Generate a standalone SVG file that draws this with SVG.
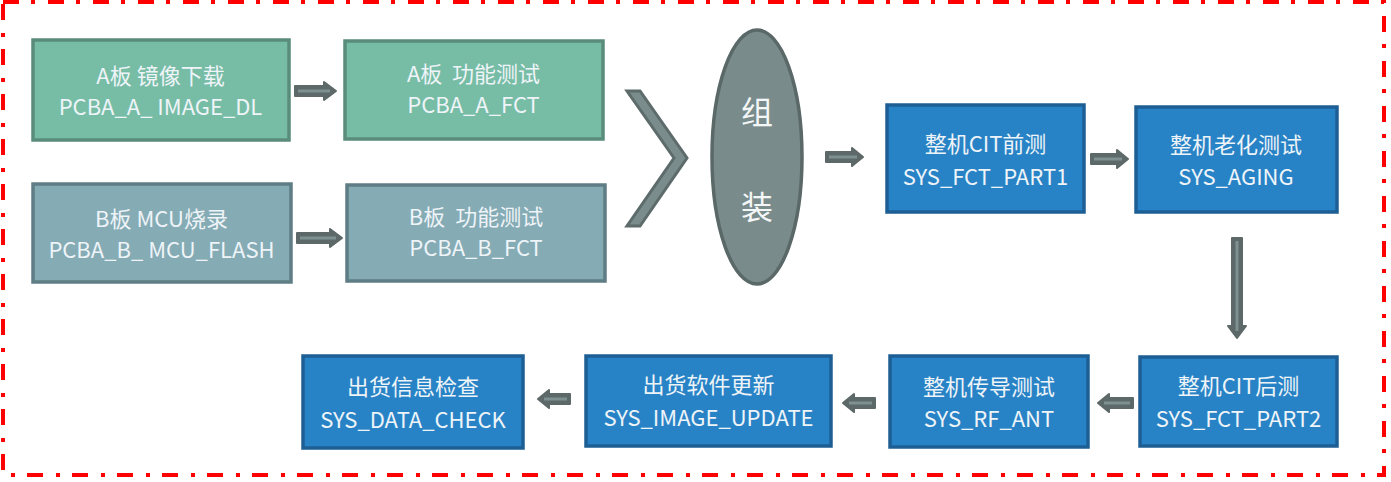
<svg xmlns="http://www.w3.org/2000/svg" width="1391" height="482" viewBox="0 0 1391 482">
<style>
.t{font-family:"Noto Sans CJK SC","Noto Sans",sans-serif;font-size:22px;fill:#eef4f8;text-anchor:middle;dominant-baseline:central;white-space:pre}
.ga{fill:#77bda6;stroke:#5a8c7b;stroke-width:3.5}
.gb{fill:#85abb5;stroke:#5f7d85;stroke-width:3.5}
.bl{fill:#2883c6;stroke:#1d5f94;stroke-width:3.5}
.ao{fill:#5d6868;stroke:#5d6868;stroke-width:2;stroke-linejoin:round}
.ai{stroke:#7e9090;stroke-width:3;fill:none}
.big{font-family:"Noto Sans CJK SC",sans-serif;font-size:32px;fill:#f4f7f8;text-anchor:middle;dominant-baseline:central}
</style>
<rect width="1391" height="482" fill="#ffffff"/>
<path d="M3,2 H1384 V475 H3 Z" fill="none" stroke="#ff0000" stroke-width="4" stroke-dasharray="16 12 4 13"/>

<g id="nodeA1"><rect class="ga" x="33" y="40" width="256" height="100"/><text class="t" x="160.5" y="74">A板 镜像下载</text><text class="t" x="160.5" y="105">PCBA_A_ IMAGE_DL</text></g>
<g id="nodeA2"><rect class="ga" x="345" y="41" width="258" height="98"/><text class="t" x="473.5" y="72">A板  功能测试</text><text class="t" x="473.5" y="103">PCBA_A_FCT</text></g>
<g id="nodeB1"><rect class="gb" x="33" y="184" width="258" height="98"/><text class="t" x="161.5" y="217">B板 MCU烧录</text><text class="t" x="161.5" y="248">PCBA_B_ MCU_FLASH</text></g>
<g id="nodeB2"><rect class="gb" x="347" y="185" width="258" height="96"/><text class="t" x="476" y="215">B板  功能测试</text><text class="t" x="476" y="246">PCBA_B_FCT</text></g>

<g id="chevron"><polygon points="627,91 640,91 687,158 640,226 627,226 674,158" fill="#7a8c8c" stroke="#5d6b6b" stroke-width="3" stroke-linejoin="miter"/></g>

<g id="assemble"><ellipse cx="757" cy="157" rx="45" ry="127" fill="#7a8b8b" stroke="#5a6868" stroke-width="3.5"/><text class="big" x="757" y="110">组</text><text class="big" x="757" y="205">装</text></g>

<g id="nodeC1"><rect class="bl" x="887" y="105" width="197" height="107"/><text class="t" x="985.5" y="142">整机CIT前测</text><text class="t" x="985.5" y="175">SYS_FCT_PART1</text></g>
<g id="nodeC2"><rect class="bl" x="1136" y="107" width="201" height="105"/><text class="t" x="1236" y="143">整机老化测试</text><text class="t" x="1236" y="175">SYS_AGING</text></g>
<g id="nodeC3"><rect class="bl" x="1140" y="357" width="197" height="89"/><text class="t" x="1238.5" y="384">整机CIT后测</text><text class="t" x="1238.5" y="417">SYS_FCT_PART2</text></g>
<g id="nodeC4"><rect class="bl" x="890" y="356" width="198" height="91"/><text class="t" x="989" y="385">整机传导测试</text><text class="t" x="989" y="417">SYS_RF_ANT</text></g>
<g id="nodeC5"><rect class="bl" x="586" y="356" width="245" height="90"/><text class="t" x="708.5" y="383">出货软件更新</text><text class="t" x="708.5" y="416">SYS_IMAGE_UPDATE</text></g>
<g id="nodeC6"><rect class="bl" x="303" y="356" width="220" height="92"/><text class="t" x="413" y="385">出货信息检查</text><text class="t" x="413" y="418">SYS_DATA_CHECK</text></g>

<g id="connectors">
<path class="ao" d="M295,86 H324 V82 L336,91 L324,100 V96 H295 Z"/><path class="ai" d="M298,91 H330"/>
<path class="ao" d="M297,233 H330 V229 L342,238 L330,247 V243 H297 Z"/><path class="ai" d="M300,238 H336"/>
<path class="ao" d="M826,152 H852 V148 L863,157 L852,166 V162 H826 Z"/><path class="ai" d="M829,157 H857"/>
<path class="ao" d="M1091,154 H1117 V150 L1128,159 L1117,168 V164 H1091 Z"/><path class="ai" d="M1094,159 H1122"/>
<path class="ao" d="M1232,238 V326 H1228 L1237,338 L1246,326 H1242 V238 Z"/><path class="ai" d="M1237,241 V331"/>
<path class="ao" d="M1133,398 H1109 V394 L1098,403 L1109,412 V408 H1133 Z"/><path class="ai" d="M1130,403 H1104"/>
<path class="ao" d="M875,398 H854 V394 L843,403 L854,412 V408 H875 Z"/><path class="ai" d="M872,403 H849"/>
<path class="ao" d="M570,394 H549 V390 L538,399 L549,408 V404 H570 Z"/><path class="ai" d="M567,399 H544"/>
</g>
</svg>
